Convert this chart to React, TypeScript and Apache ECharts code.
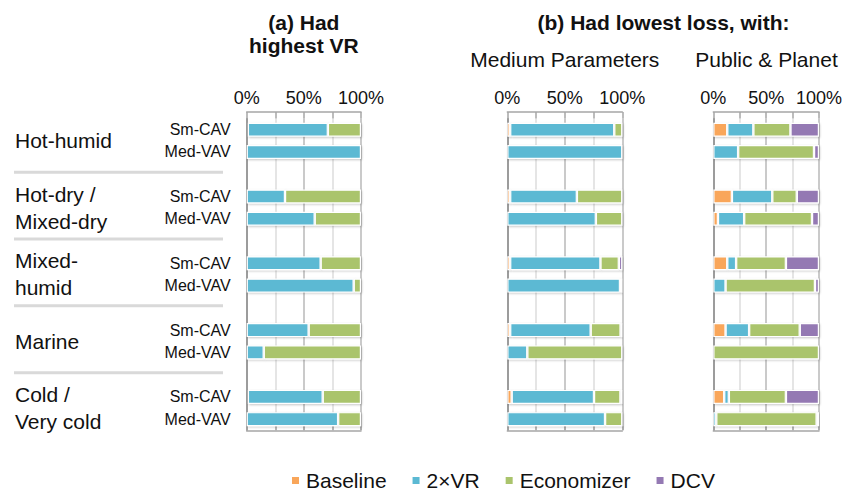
import React, { useEffect, useRef } from "react";
import * as echarts from "echarts";

// ---- Data ----
const climates = ["Hot-humid", "Hot-dry /\nMixed-dry", "Mixed-\nhumid", "Marine", "Cold /\nVery cold"];
const systems = ["Sm-CAV", "Med-VAV"];
const seriesNames = ["Baseline", "2×VR", "Economizer", "DCV"];
const seriesColors = ["#F9A65A", "#5BB9D3", "#AAC46C", "#9479B3"];
const tickLabels = ["0%", "50%", "100%"];
const panelTitles = ["(a) Had\nhighest VR", "Medium Parameters", "Public & Planet"];
const mainTitleB = "(b) Had lowest loss, with:";

// rows: Hot-humid Sm, Med, Hot-dry Sm, Med, Mixed-humid Sm, Med, Marine Sm, Med, Cold Sm, Med
// Panel (a): Had highest VR
const aBaseline = [1, 0, 0, 0, 0, 0, 0, 0, 1, 0];
const aVR = [70, 100, 33.5, 59.5, 64.7, 93.6, 54.2, 14.9, 65.5, 80];
const aEcon = [29, 0, 66.5, 40.5, 35.3, 6.4, 45.8, 85.1, 33.5, 20];
const aDCV = [0, 0, 0, 0, 0, 0, 0, 0, 0, 0];
// Panel (b1): Medium Parameters
const bBaseline = [2.5, 0, 2.5, 0, 2.5, 0, 2.5, 0, 3.8, 0];
const bVR = [90.5, 100, 58, 77, 78.5, 98, 70, 17.4, 71.6, 85];
const bEcon = [7, 0, 39.5, 23, 16, 2, 26, 82.6, 23, 15];
const bDCV = [0, 0, 0, 0, 3, 0, 1.5, 0, 1.6, 0];
// Panel (b2): Public & Planet
const cBaseline = [13.2, 0, 17.6, 4.4, 13.2, 0, 11.6, 0, 10.3, 0];
const cVR = [24.7, 23.5, 38.2, 24.8, 8.4, 11.6, 22.3, 0, 4.4, 2.8];
const cEcon = [35.1, 71.8, 23.2, 64.2, 47.1, 84.6, 47.9, 100, 54, 95];
const cDCV = [27, 4.7, 21, 6.6, 31.3, 3.8, 18.2, 0, 31.3, 2.2];

const panels = [
  [aBaseline, aVR, aEcon, aDCV],
  [bBaseline, bVR, bEcon, bDCV],
  [cBaseline, cVR, cEcon, cDCV],
];

const FONT = "'Liberation Sans', Arial, Helvetica, sans-serif";

// Build 14 slots (10 rows + 4 blank spacers)
type Slot = { key: string; label: string; row: number | null; climate: number };
const slots: Slot[] = [];
climates.forEach((_, ci) => {
  systems.forEach((s, si) => {
    slots.push({ key: `c${ci}s${si}`, label: s, row: ci * 2 + si, climate: ci });
  });
  if (ci < climates.length - 1) slots.push({ key: `gap${ci}`, label: "", row: null, climate: ci });
});
const slotKeys = slots.map((s) => s.key);

const grids = [
  { left: 246.7, width: 114.3 },
  { left: 507.3, width: 115 },
  { left: 713.3, width: 106.4 },
];
const GRID_TOP = 118.6;
const GRID_H = 311.7;

export default function App() {
  const ref = useRef<HTMLDivElement>(null);
  useEffect(() => {
    if (!ref.current) return;
    const chart = echarts.init(ref.current, null, { renderer: "svg" });

    const xAxes: any[] = [];
    const yAxes: any[] = [];
    const series: any[] = [];
    grids.forEach((g, p) => {
      xAxes.push({
        type: "value",
        gridIndex: p,
        min: 0,
        max: 100,
        interval: 50,
        position: "top",
        offset: 6.6,
        axisLine: { show: true, lineStyle: { color: "#a6a6a6", width: 1.5 } },
        axisTick: { show: true, inside: true, length: 6.6, lineStyle: { color: "#a6a6a6", width: 1.5 } },
        minorTick: { show: true, splitNumber: 2, length: 6.6, lineStyle: { color: "#a6a6a6", width: 1.5 } },
        axisLabel: {
          show: true,
          margin: 5,
          fontSize: 18,
          fontFamily: FONT,
          color: "#111",
          formatter: (v: number) => tickLabels[Math.round(v / 50)] ?? "",
        },
        splitLine: { show: true, lineStyle: { color: "#b8b8b8", width: 1.5 } },
        minorSplitLine: { show: true, lineStyle: { color: "#dcdcdc", width: 1.5 } },
      });
      xAxes.push({
        type: "value",
        gridIndex: p,
        min: 0,
        max: 100,
        interval: 50,
        position: "bottom",
        axisLine: { show: true, lineStyle: { color: "#a6a6a6", width: 1.5 } },
        axisTick: { show: true, inside: true, length: 4, lineStyle: { color: "#a6a6a6", width: 1.5 } },
        minorTick: { show: true, splitNumber: 2, length: 4, lineStyle: { color: "#a6a6a6", width: 1.5 } },
        axisLabel: { show: false },
        splitLine: { show: false },
      });
      yAxes.push({
        type: "category",
        gridIndex: p,
        inverse: true,
        data: slotKeys,
        axisLine: { show: true, lineStyle: { color: "#8c8c8c", width: 1.5 } },
        axisTick: { show: false },
        axisLabel: {
          show: p === 0,
          interval: 0,
          margin: 16,
          fontSize: 16,
          fontFamily: FONT,
          color: "#111",
          formatter: (_v: string, idx: number) => slots[idx].label,
        },
        splitLine: { show: false },
      });
      panels[p].forEach((vals, s) => {
        series.push({
          type: "bar",
          name: seriesNames[s],
          stack: `panel${p}`,
          xAxisIndex: p * 2,
          yAxisIndex: p,
          barWidth: 14,
          itemStyle: {
            color: seriesColors[s],
            borderColor: "#ffffff",
            borderWidth: 1.2,
            shadowColor: "rgba(0,0,0,0.22)",
            shadowBlur: 2,
            shadowOffsetX: 1,
            shadowOffsetY: 1,
          },
          data: slots.map((sl) => (sl.row === null ? null : vals[sl.row])),
        });
      });
    });

    chart.setOption({
      animation: false,
      backgroundColor: "#ffffff",
      grid: grids.map((g) => ({ left: g.left, width: g.width, top: GRID_TOP, height: GRID_H, containLabel: false })),
      xAxis: xAxes,
      yAxis: yAxes,
      legend: {
        data: seriesNames,
        left: 290,
        top: 470,
        padding: 0,
        itemGap: 24,
        itemWidth: 9,
        itemHeight: 9,
        icon: "rect",
        textStyle: { fontSize: 21, fontFamily: FONT, color: "#111", padding: [0, 0, 0, 1] },
      },
      series,
    });

    // Positions for side labels, computed from the category axis
    const yOf = (key: string) => chart.convertToPixel({ yAxisIndex: 0 }, key) as number;
    const graphics: any[] = [];
    climates.forEach((c, ci) => {
      const y1 = yOf(`c${ci}s0`);
      const y2 = yOf(`c${ci}s1`);
      graphics.push({
        type: "text",
        x: 15,
        y: (y1 + y2) / 2,
        style: {
          text: c,
          font: `21px ${FONT}`,
          fill: "#111",
          align: "left",
          verticalAlign: "middle",
          lineHeight: 27,
        },
      });
      if (ci < climates.length - 1) {
        const yg = yOf(`gap${ci}`);
        graphics.push({
          type: "rect",
          shape: { x: 14, y: yg - 3.5, width: 209, height: 3 },
          style: { fill: "#d9d9d9" },
        });
      }
    });
    const centers = grids.map((g) => g.left + g.width / 2);
    graphics.push({
      type: "text",
      x: centers[0],
      y: 33.5,
      style: { text: panelTitles[0], font: `bold 21px ${FONT}`, fill: "#111", align: "center", verticalAlign: "middle", lineHeight: 23 },
    });
    graphics.push({
      type: "text",
      x: (grids[1].left + grids[2].left + grids[2].width) / 2,
      y: 22,
      style: { text: mainTitleB, font: `bold 21px ${FONT}`, fill: "#111", align: "center", verticalAlign: "middle" },
    });
    graphics.push({
      type: "text",
      x: centers[1],
      y: 59,
      style: { text: panelTitles[1], font: `21px ${FONT}`, fill: "#111", align: "center", verticalAlign: "middle" },
    });
    graphics.push({
      type: "text",
      x: centers[2],
      y: 59,
      style: { text: panelTitles[2], font: `21px ${FONT}`, fill: "#111", align: "center", verticalAlign: "middle" },
    });
    chart.setOption({ graphic: graphics });

    return () => chart.dispose();
  }, []);
  return (
    <div
      ref={ref}
      style={{ position: "fixed", left: 0, top: 0, width: 845, height: 491, background: "#fff" }}
    />
  );
}
